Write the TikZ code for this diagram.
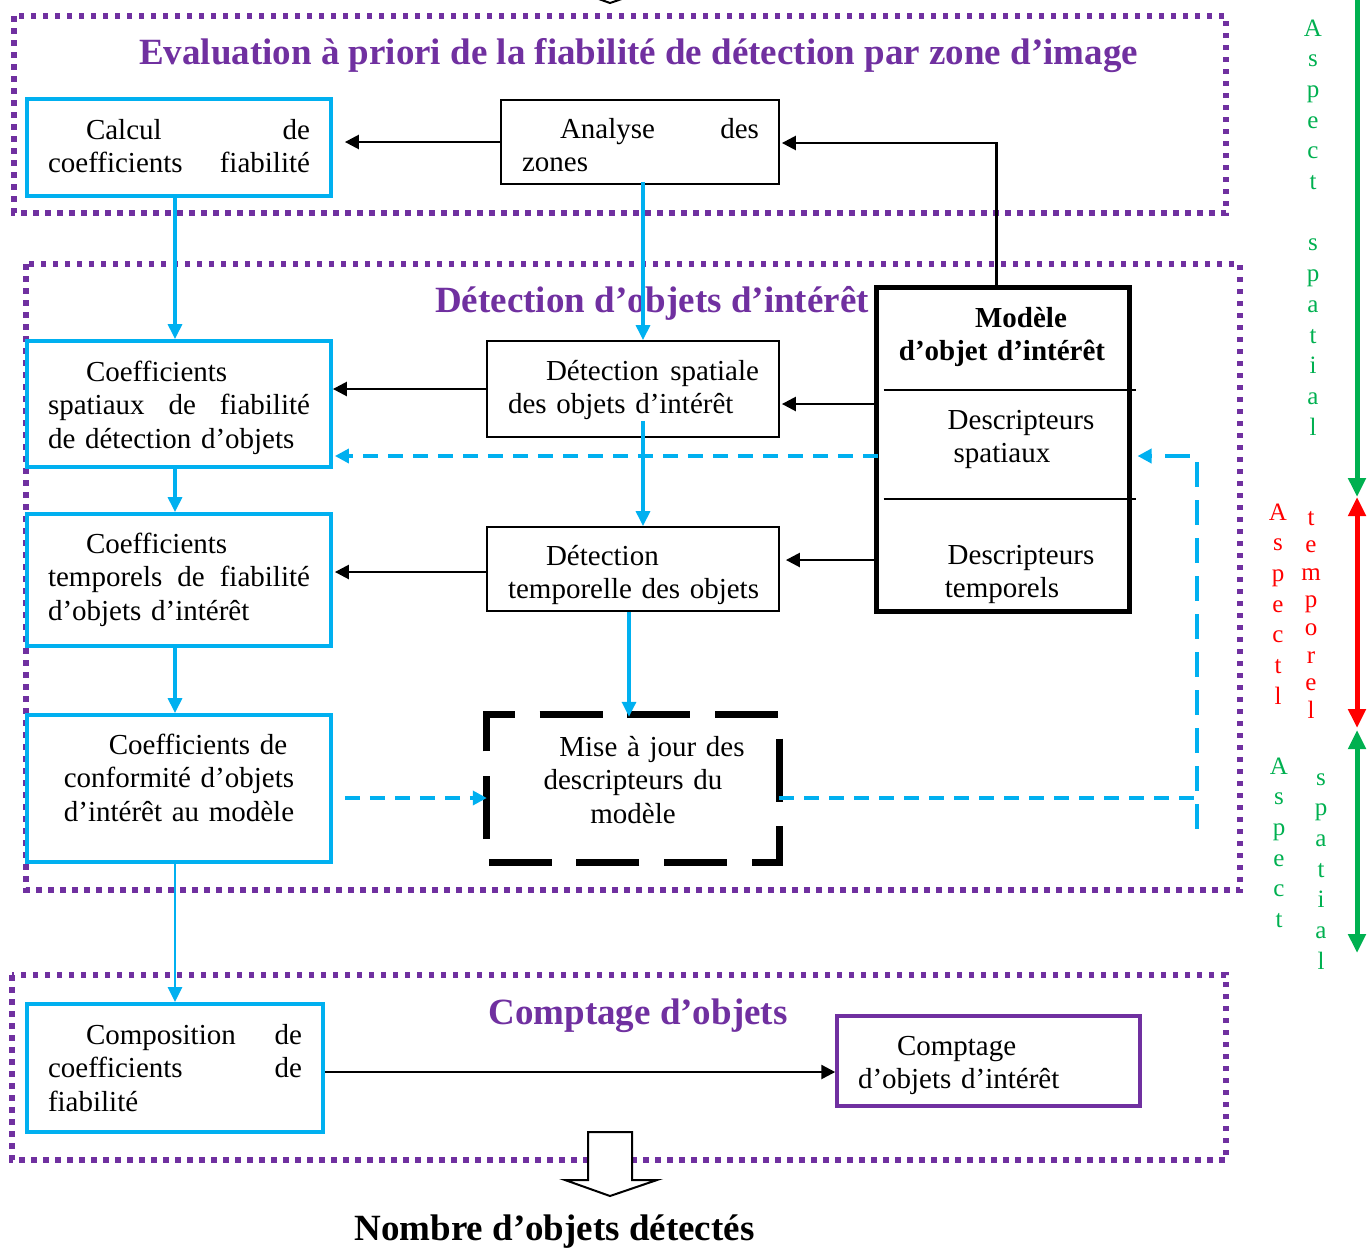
\documentclass[tikz,border=0pt]{standalone}
\usepackage{fontspec}
\setmainfont{Liberation Serif}
\usetikzlibrary{arrows.meta,calc}
\definecolor{vio}{HTML}{7030A0}
\definecolor{cya}{HTML}{00B0F0}
\definecolor{grn}{HTML}{00B050}
\definecolor{rd}{HTML}{FF0000}
\newcommand\ntxtfont{\fontsize{29}{33.5}\selectfont}
\newcommand\ttlfont{\fontsize{37}{42}\selectfont\bfseries}
\newcommand\ltrfont{\fontsize{25}{30.7}\selectfont}
\begin{document}
\begin{tikzpicture}[x=1pt,y=-1pt,
 region/.style={draw=vio, line width=5.5pt, dash pattern=on 5.5pt off 6.5pt},
 cbox/.style={draw=cya, line width=3.8pt, inner sep=0pt, minimum width=304pt},
 kbox/.style={draw=black, line width=1.8pt, inner sep=0pt},
 txt/.style={inner sep=0pt, font=\ntxtfont, anchor=base},
 jtxt/.style={txt, text width=262pt, align=left},
 ctxt/.style={txt, text width=262pt, align=center},
 ttlnode/.style={inner sep=0pt, font=\ttlfont, text=vio, anchor=base},
 lcol/.style={inner sep=0pt, font=\ltrfont, anchor=base, text width=30pt, align=center},
 karrow/.style={draw=black, line width=2.5pt, -{Triangle[length=14pt,width=14pt]}},
 carrow/.style={draw=cya, line width=3.2pt, -{Triangle[length=15pt,width=14pt]}},
 cdash/.style={draw=cya, line width=3.5pt, dash pattern=on 15pt off 10pt},
 cdashv/.style={draw=cya, line width=3.5pt, dash pattern=on 25pt off 13pt},
 ctip/.style={-{Triangle[length=14pt,width=14pt]}},
 majdash/.style={draw=black, line width=7pt, miter limit=10, dash pattern=on 63pt off 24.8pt},
 hollow/.style={draw=black, fill=white, line width=2pt, line join=miter},
 sidearr/.style={line width=5pt},
 sidetips/.style={arrows={Triangle[length=19pt,width=17pt]-Triangle[length=19pt,width=17pt]}},
 sidetip/.style={arrows={-Triangle[length=19pt,width=17pt]}},
 sepline/.style={draw=black, line width=2pt}
]
\useasboundingbox (0,0) rectangle (1367,1248);

% regions
\draw[region] (14,16) rectangle (1226,213);
\draw[region] (26,264) rectangle (1240,890);
\draw[region] (12,975) rectangle (1226,1160);

% top fragment of a hollow arrow
\draw[hollow] (588,-60) -- (588,-13) -- (565,-13) -- (610,3) -- (657,-13) -- (632,-13) -- (632,-60) -- cycle;

% titles
\node[ttlnode] (t1) at (638.5,64) {Evaluation à priori de la fiabilité de détection par zone d’image};
\node[ttlnode] (t2) at (652,312) {Détection d’objets d’intérêt};
\node[ttlnode] (t3) at (638,1024) {Comptage d’objets};

% boxes
\node[cbox, minimum height=97pt] (calc) at (179,147.5) {};
\node[jtxt] (calct) at (179,139) {\hspace*{38pt}Calcul\hfill de\\coefficients\hfill fiabilité};

\node[kbox, minimum width=278pt, minimum height=84pt] (ana) at (640,142) {};
\node[jtxt, text width=237pt] (anat) at (640.5,138) {\hspace*{38pt}Analyse\hfill des\\zones};

\node[cbox, minimum height=126pt] (cs) at (179,404) {};
\node[jtxt] (cst) at (179,381) {\hspace*{38pt}Coefficients\\spatiaux\hfill de\hfill fiabilité\\de détection d’objets};

\node[kbox, minimum width=292pt, minimum height=96pt] (dsp) at (633,389) {};
\node[jtxt, text width=251pt] (dspt) at (633.5,380) {\hspace*{38pt}Détection\hfill spatiale\\des objets d’intérêt};

\node[cbox, minimum height=132pt] (ct) at (179,580) {};
\node[jtxt] (ctt) at (179,553) {\hspace*{38pt}Coefficients\\temporels\hfill de\hfill fiabilité\\d’objets d’intérêt};

\node[kbox, minimum width=292pt, minimum height=84pt] (dt) at (633,569) {};
\node[jtxt, text width=251pt] (dtt) at (633.5,565) {\hspace*{38pt}Détection\\temporelle\hfill des\hfill objets};

\node[cbox, minimum height=147pt] (conf) at (179,788.5) {};
\node[ctxt] (conft) at (179,754) {\hspace*{38pt}Coefficients de\\conformité d’objets\\d’intérêt au modèle};

\node[inner sep=0pt, minimum width=292pt, minimum height=147pt] (maj) at (633,788.5) {};
\draw[majdash] ($(maj.north west)+(0,35)$) -- (maj.north west) -- (maj.north east) -- (maj.south east) -- (maj.south west) -- cycle;
\node[ctxt, text width=250pt] (majt) at (633,756) {\hspace*{38pt}Mise à jour des\\descripteurs du\\modèle};

\node[draw=black, line width=5pt, inner sep=0pt, minimum width=253pt, minimum height=324pt] (mod) at (1002.5,449) {};
\node[ctxt, text width=250pt, font=\ntxtfont\bfseries] (modt) at (1002,327) {\hspace*{38pt}Modèle\\d’objet d’intérêt};
\draw[sepline] ($(mod.west)+(10,-59)$) -- ($(mod.east)+(4,-59)$);
\draw[sepline] ($(mod.west)+(10,50)$) -- ($(mod.east)+(4,50)$);
\node[ctxt, text width=250pt] (dsct) at (1002,429) {\hspace*{38pt}Descripteurs\\spatiaux};
\node[ctxt, text width=250pt] (dtct) at (1002,564) {\hspace*{38pt}Descripteurs\\temporels};

\node[cbox, minimum width=296pt, minimum height=128pt] (comp) at (175,1068) {};
\node[jtxt, text width=254pt] (compt) at (175,1044) {\hspace*{38pt}Composition\hfill de\\coefficients\hfill de\\fiabilité};

\node[draw=vio, line width=3.5pt, inner sep=0pt, minimum width=303pt, minimum height=90pt] (cpt) at (988.5,1061) {};
\node[jtxt, text width=240pt] (cptt) at (978,1055) {\hspace*{39pt}Comptage\\d’objets d’intérêt};

% connectors
\draw[karrow] (ana.west) -- ($(calc.east |- ana.west)+(12,0)$);
\draw[karrow] ($(mod.north)+(-6,0)$) |- ($(ana.east)+(2,1)$);
\coordinate (a1) at ($(ana.south)+(3,-3)$);
\draw[carrow] (a1) -- (a1 |- dsp.north);
\draw[carrow] ($(calc.south)+(-4,0)$) -- ($(cs.north)+(-4,0)$);
\draw[karrow] (dsp.west) -- (dsp.west -| cs.east);
\draw[karrow] ($(mod.west |- dsp.east)+(0,15)$) -- ($(dsp.east)+(2,15)$);
\draw[cdash, ctip] ($(mod.west)+(4,7)$) -- ($(cs.east |- mod.west)+(2,7)$);
\coordinate (a2) at ($(dsp.south)+(10,-17)$);
\draw[carrow] (a2) -- (a2 |- dt.north);
\draw[carrow] ($(cs.south)+(-4,0)$) -- ($(ct.north)+(-4,0)$);
\draw[karrow] ($(dt.west)+(0,3)$) -- ($(ct.east |- dt.west)+(2,3)$);
\draw[karrow] ($(mod.west |- dt.east)+(0,-9)$) -- ($(dt.east)+(6,-9)$);
\draw[carrow] ($(dt.south)+(-4,0)$) -- ($(maj.north)+(-4,2)$);
\draw[carrow] ($(ct.south)+(-4,0)$) -- ($(conf.north)+(-4,0)$);
\draw[cdash, ctip] ($(conf.east)+(12,9.5)$) -- ($(maj.west |- conf.east)+(0,9.5)$);
\draw[cdash] ($(maj.east)+(0,9.5)$) -- ($(maj.east)+(418,9.5)$);
\coordinate (v0) at ($(maj.east)+(418,40)$);
\draw[cdashv, ctip] (v0) |- ($(mod.east)+(6,7)$);
\draw[carrow, line width=2.5pt] ($(conf.south)+(-4,0)$) -- (comp.north);
\draw[karrow] ($(comp.east)+(0,4)$) -- ($(cpt.west |- comp.east)+(0,4)$);

% output hollow arrow and result
\draw[hollow] (588,1132) -- (588,1180) -- (565,1180) -- (610,1196) -- (657,1180) -- (632,1180) -- (632,1132) -- cycle;
\node[inner sep=0pt, font=\ttlfont, anchor=base] (res) at (554.5,1240) {Nombre d’objets détectés};

% side aspects
\coordinate (g0) at (1357,-10);
\coordinate (g1) at (1357,497);
\coordinate (r1) at (1357,728);
\coordinate (g2) at (1357,730);
\coordinate (g3) at (1357,953);
\draw[sidearr, grn, sidetip] (g0) -- (g1);
\draw[sidearr, rd, sidetips] (g1) -- (r1);
\draw[sidearr, grn, sidetips] (g2) -- (g3);
\node[lcol, text=grn] (asp1) at (1313,36) {A\\s\\p\\e\\c\\t\\[30.7pt]s\\p\\a\\t\\i\\a\\l};
\node[lcol, text=rd] (asp2a) at (1278,520) {A\\s\\p\\e\\c\\t\\l};
\node[lcol, text=rd, font=\fontsize{25}{27.6}\selectfont] (asp2b) at (1311,525) {t\\e\\m\\p\\o\\r\\e\\l};
\node[lcol, text=grn] (asp3a) at (1279,774) {A\\s\\p\\e\\c\\t};
\node[lcol, text=grn] (asp3b) at (1321,785) {s\\p\\a\\t\\i\\a\\l};
\end{tikzpicture}
\end{document}
